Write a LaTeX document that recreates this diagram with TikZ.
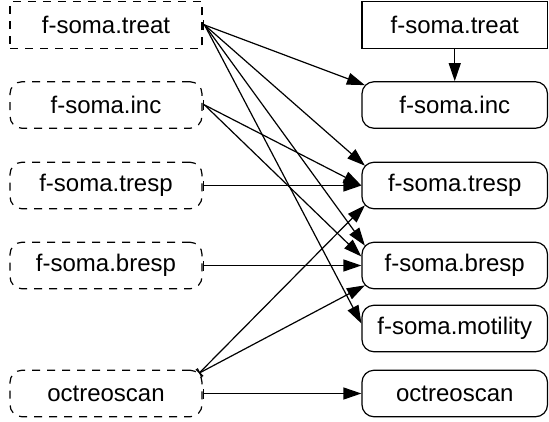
\documentclass[tikz,border=0pt]{standalone}
\usepackage{fontspec}
\setmainfont{Liberation Sans}
\usetikzlibrary{arrows.meta}
\begin{document}
\begin{tikzpicture}[x=1pt,y=-1pt,line width=1.2pt,
  every node/.style={font=\fontsize{24}{28}\selectfont,inner sep=0pt},
  srcbox/.style={draw,dash pattern=on 8pt off 7pt,minimum width=192pt,minimum height=46.5pt},
  srcround/.style={srcbox,rounded corners=12pt},
  dstbox/.style={draw,minimum width=185.5pt,minimum height=46.5pt},
  dstround/.style={dstbox,rounded corners=12pt},
  link/.style={-{Triangle[length=18pt,width=12pt]}},
  tlink/.style={{Bar[width=10pt]}-{Triangle[length=18pt,width=12pt]}}]
\useasboundingbox (0,0) rectangle (549,421);
% source column
\node[srcbox]   (lt)  at (106,25)    {f-soma.treat};
\node[srcround] (li)  at (106,105)   {f-soma.inc};
\node[srcround] (ltr) at (106,185.5) {f-soma.tresp};
\node[srcround] (lbr) at (106,265.5) {f-soma.bresp};
\node[srcround] (lo)  at (106,393.5) {octreoscan};
% target column
\node[dstbox]   (rt)  at (454.75,25)    {f-soma.treat};
\node[dstround] (ri)  at (454.75,105)   {f-soma.inc};
\node[dstround] (rtr) at (454.75,185.5) {f-soma.tresp};
\node[dstround] (rbr) at (454.75,265.5) {f-soma.bresp};
\node[dstround] (rm)  at (454.75,328.5) {f-soma.motility};
\node[dstround] (ro)  at (454.75,393.5) {octreoscan};
% edges from f-soma.treat
\draw[tlink] (lt.east) -- ++(2,0) -- ([xshift=3.5pt,yshift=-4pt]ri.north west);
\draw[tlink] (lt.east) -- ++(2,0) -- ([xshift=3.5pt,yshift=-4pt]rtr.north west);
\draw[tlink] (lt.east) -- ++(2,0) -- ([xshift=3.5pt,yshift=-4pt]rbr.north west);
\draw[tlink] (lt.east) -- ++(2,0) -- ([yshift=5pt]rm.west);
% edges from f-soma.inc
\draw[tlink] (li.east) -- ++(2,0) -- (rtr.west);
\draw[tlink] (li.east) -- ++(2,0) -- ([yshift=9pt]rbr.west);
% straight edges
\draw[tlink] (ltr.east) -- (rtr.west);
\draw[tlink] (lbr.east) -- (rbr.west);
\draw[tlink] (lo.east) -- (ro.west);
% edges from octreoscan
\draw[tlink] ([xshift=-3.5pt,yshift=-3.5pt]lo.north east) -- ([xshift=3.5pt,yshift=4pt]rtr.south west);
\draw[tlink] ([xshift=-3.5pt,yshift=-3.5pt]lo.north east) -- ([xshift=3.5pt,yshift=4pt]rbr.south west);
% target treat to target inc
\draw[link] (rt.south) -- (ri.north);
\end{tikzpicture}
\end{document}
